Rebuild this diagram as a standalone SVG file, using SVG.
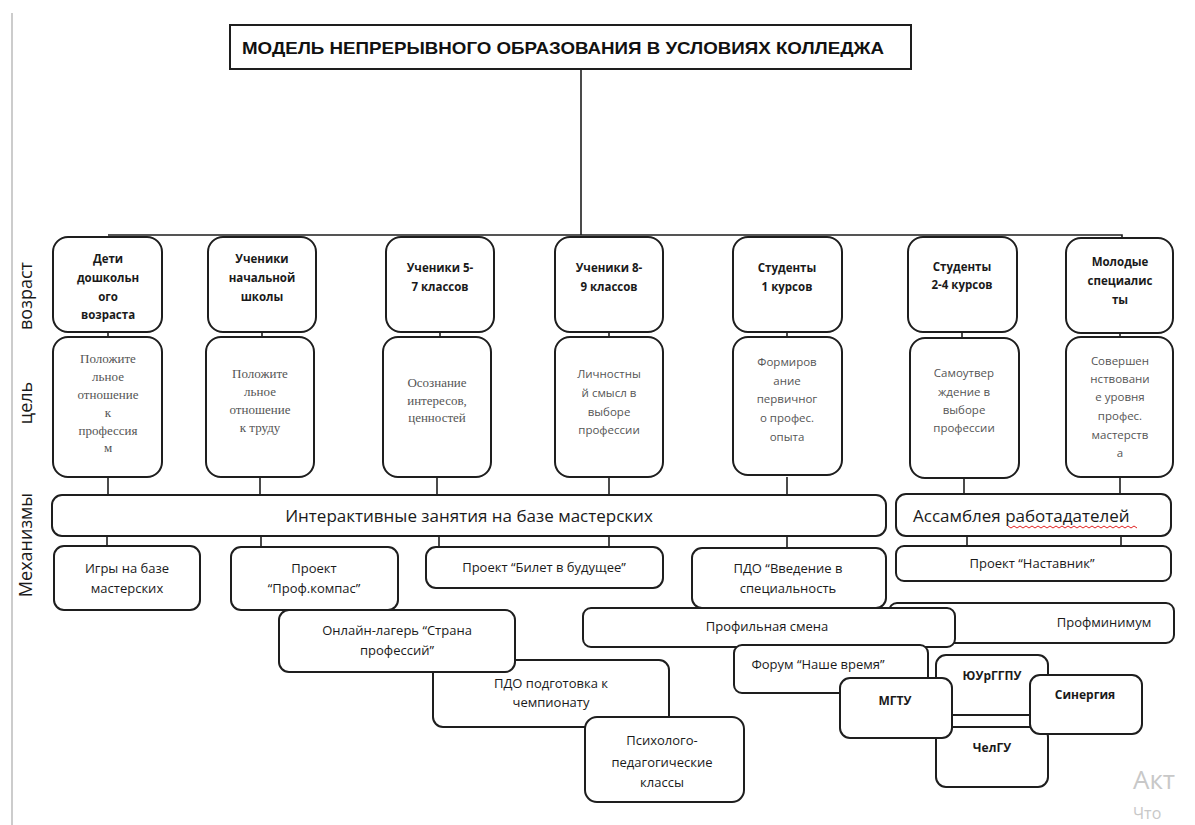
<svg xmlns="http://www.w3.org/2000/svg" width="1195" height="825" viewBox="0 0 1195 825">
<style>
.bx{fill:#fff;stroke:#1e1e1e;stroke-width:2}
.cn{fill:none;stroke:#1e1e1e;stroke-width:1.6}
.t1{font-family:"Open Sans","DejaVu Sans",sans-serif;font-size:11.5px;font-weight:bold;fill:#1a1a1a;text-anchor:middle}
.t2s{font-family:"Liberation Serif","DejaVu Serif",serif;font-size:13px;fill:#555;text-anchor:middle}
.t2{font-family:"Open Sans","DejaVu Sans",sans-serif;font-size:11.5px;fill:#555;text-anchor:middle}
.tm{font-family:"Open Sans","DejaVu Sans",sans-serif;font-size:13px;fill:#1a1a1a;text-anchor:middle}
.tb{font-family:"Open Sans","DejaVu Sans",sans-serif;font-size:12px;font-weight:bold;fill:#1a1a1a;text-anchor:middle}
.tl{font-family:"Open Sans","DejaVu Sans",sans-serif;font-size:17px;fill:#1a1a1a}
.side{font-family:"Open Sans","DejaVu Sans",sans-serif;font-size:18px;fill:#1a1a1a;text-anchor:middle}
.wm{font-family:"Open Sans","DejaVu Sans",sans-serif;fill:#c8c8c8}
</style>
<rect width="1195" height="825" fill="#fff"/>
<line x1="12" y1="13" x2="12" y2="825" stroke="#bbb" stroke-width="1.5"/>

<g id="side-labels">
<text class="side" transform="translate(32,296) rotate(-90)">возраст</text>
<text class="side" transform="translate(32,403) rotate(-90)">цель</text>
<text class="side" transform="translate(32,545) rotate(-90)">Механизмы</text>
</g>

<g id="connectors">
<path class="cn" d="M581 69 V235 M108 235 H1122 V238"/>
<path class="cn" d="M108 332 V337 M262 332 V337 M440 332 V337 M609 332 V337 M787 332 V337 M962 332 V337 M1120 333 V337"/>
<path class="cn" d="M108 477 V495 M260 477 V495 M437 477 V495 M609 472 V495 M787 477 V495 M964 472 V494 M1120 472 V494"/>
<path class="cn" d="M107 536 V546 M261 536 V547 M439 536 V547 M609 536 V547 M787 536 V548 M967 536 V546 M1121 536 V546"/>
</g>

<g id="title">
<rect x="230" y="25" width="681" height="44" fill="#fff" stroke="#1e1e1e" stroke-width="2"/>
<text x="242" y="54" font-family="'Liberation Sans',Arial,sans-serif" font-size="17" font-weight="bold" fill="#111" textLength="642" lengthAdjust="spacingAndGlyphs">МОДЕЛЬ НЕПРЕРЫВНОГО ОБРАЗОВАНИЯ В УСЛОВИЯХ КОЛЛЕДЖА</text>
</g>

<g id="age-1"><rect class="bx" x="53" y="237" width="109" height="95" rx="15"/>
<text class="t1" x="108" y="263">Дети</text><text class="t1" x="108" y="282">дошкольн</text><text class="t1" x="108" y="301">ого</text><text class="t1" x="108" y="319">возраста</text></g>
<g id="age-2"><rect class="bx" x="208" y="237" width="108" height="95" rx="15"/>
<text class="t1" x="262" y="263">Ученики</text><text class="t1" x="262" y="282">начальной</text><text class="t1" x="262" y="301">школы</text></g>
<g id="age-3"><rect class="bx" x="386" y="237" width="108" height="95" rx="15"/>
<text class="t1" x="440" y="272">Ученики 5-</text><text class="t1" x="440" y="291">7 классов</text></g>
<g id="age-4"><rect class="bx" x="555" y="237" width="108" height="95" rx="15"/>
<text class="t1" x="609" y="272">Ученики 8-</text><text class="t1" x="609" y="291">9 классов</text></g>
<g id="age-5"><rect class="bx" x="733" y="237" width="109" height="95" rx="15"/>
<text class="t1" x="787" y="272">Студенты</text><text class="t1" x="787" y="291">1 курсов</text></g>
<g id="age-6"><rect class="bx" x="908" y="237" width="109" height="95" rx="15"/>
<text class="t1" x="962" y="271">Студенты</text><text class="t1" x="962" y="289">2-4 курсов</text></g>
<g id="age-7"><rect class="bx" x="1066" y="238" width="107" height="95" rx="15"/>
<text class="t1" x="1120" y="266">Молодые</text><text class="t1" x="1120" y="285">специалис</text><text class="t1" x="1120" y="304">ты</text></g>

<g id="goal-1"><rect class="bx" x="53" y="337" width="109" height="140" rx="15"/>
<text class="t2s" x="108" y="363">Положите</text><text class="t2s" x="108" y="381">льное</text><text class="t2s" x="108" y="399">отношение</text><text class="t2s" x="108" y="417">к</text><text class="t2s" x="108" y="435">профессия</text><text class="t2s" x="108" y="452">м</text></g>
<g id="goal-2"><rect class="bx" x="206" y="337" width="108" height="140" rx="15"/>
<text class="t2s" x="260" y="378">Положите</text><text class="t2s" x="260" y="396">льное</text><text class="t2s" x="260" y="414">отношение</text><text class="t2s" x="260" y="432">к труду</text></g>
<g id="goal-3"><rect class="bx" x="383" y="337" width="108" height="140" rx="15"/>
<text class="t2s" x="437" y="387">Осознание</text><text class="t2s" x="437" y="405">интересов,</text><text class="t2s" x="437" y="422">ценностей</text></g>
<g id="goal-4"><rect class="bx" x="555" y="337" width="108" height="140" rx="15"/>
<text class="t2" x="609" y="378">Личностны</text><text class="t2" x="609" y="397">й смысл в</text><text class="t2" x="609" y="416">выборе</text><text class="t2" x="609" y="434">профессии</text></g>
<g id="goal-5"><rect class="bx" x="733" y="337" width="109" height="138" rx="15"/>
<text class="t2" x="787" y="366">Формиров</text><text class="t2" x="787" y="385">ание</text><text class="t2" x="787" y="403">первичног</text><text class="t2" x="787" y="422">о профес.</text><text class="t2" x="787" y="441">опыта</text></g>
<g id="goal-6"><rect class="bx" x="910" y="338" width="109" height="140" rx="15"/>
<text class="t2" x="964" y="377">Самоутвер</text><text class="t2" x="964" y="396">ждение в</text><text class="t2" x="964" y="414">выборе</text><text class="t2" x="964" y="432">профессии</text></g>
<g id="goal-7"><rect class="bx" x="1066" y="337" width="107" height="140" rx="15"/>
<text class="t2" x="1120" y="365">Совершен</text><text class="t2" x="1120" y="383">нствовани</text><text class="t2" x="1120" y="401">е уровня</text><text class="t2" x="1120" y="420">профес.</text><text class="t2" x="1120" y="439">мастерств</text><text class="t2" x="1120" y="457">а</text></g>

<g id="interactive"><rect class="bx" x="52" y="495" width="834" height="41" rx="10"/>
<text class="tl" x="469" y="522" text-anchor="middle">Интерактивные занятия на базе мастерских</text></g>
<g id="assembly"><rect class="bx" x="896" y="494" width="275" height="42" rx="10"/>
<text class="tl" x="913" y="522">Ассамблея работадателей</text>
<path d="M1008 526 l3 2 l3 -2 l3 2 l3 -2 l3 2 l3 -2 l3 2 l3 -2 l3 2 l3 -2 l3 2 l3 -2 l3 2 l3 -2 l3 2 l3 -2 l3 2 l3 -2 l3 2 l3 -2 l3 2 l3 -2 l3 2 l3 -2 l3 2 l3 -2 l3 2 l3 -2 l3 2 l3 -2 l3 2 l3 -2 l3 2 l3 -2 l3 2 l3 -2 l3 2 l3 -2 l3 2 l3 -2 l3 2 l3 -2 l3 2" fill="none" stroke="#e02020" stroke-width="1"/></g>

<g id="games"><rect class="bx" x="54" y="546" width="146" height="64" rx="10"/>
<text class="tm" x="127" y="573">Игры на базе</text><text class="tm" x="127" y="593">мастерских</text></g>
<g id="compass"><rect class="bx" x="231" y="547" width="167" height="63" rx="10"/>
<text class="tm" x="314" y="573">Проект</text><text class="tm" x="314" y="593">“Проф.компас”</text></g>
<g id="ticket"><rect class="bx" x="426" y="547" width="237" height="41" rx="10"/>
<text class="tm" x="544" y="572">Проект “Билет в будущее”</text></g>
<g id="intro"><rect class="bx" x="692" y="548" width="194" height="60" rx="10"/>
<text class="tm" x="788" y="573">ПДО “Введение в</text><text class="tm" x="788" y="593">специальность</text></g>
<g id="mentor"><rect class="bx" x="896" y="546" width="275" height="35" rx="8"/>
<text class="tm" x="1032" y="568">Проект “Наставник”</text></g>
<g id="profmin"><rect class="bx" x="889" y="603" width="285" height="40" rx="8"/>
<text class="tm" x="1104" y="627">Профминимум</text></g>
<g id="profshift"><rect class="bx" x="583" y="608" width="372" height="39" rx="8"/>
<text class="tm" x="767" y="631">Профильная смена</text></g>
<g id="champ"><rect class="bx" x="433" y="660" width="236" height="67" rx="10"/>
<text class="tm" x="551" y="688">ПДО подготовка к</text><text class="tm" x="551" y="707">чемпионату</text></g>
<g id="camp"><rect class="bx" x="279" y="610" width="236" height="62" rx="10"/>
<text class="tm" x="397" y="635">Онлайн-лагерь “Страна</text><text class="tm" x="397" y="655">профессий”</text></g>
<g id="psych"><rect class="bx" x="585" y="717" width="159" height="85" rx="12"/>
<text class="tm" x="662" y="745">Психолого-</text><text class="tm" x="662" y="767">педагогические</text><text class="tm" x="662" y="787">классы</text></g>
<g id="forum"><rect class="bx" x="734" y="645" width="194" height="48" rx="8"/>
<text class="tm" x="818" y="669">Форум “Наше время”</text></g>
<g id="uurgu"><rect class="bx" x="936" y="655" width="112" height="60" rx="10"/>
<text class="tb" x="992" y="680">ЮУрГГПУ</text></g>
<g id="chelgu"><rect class="bx" x="936" y="727" width="112" height="60" rx="10"/>
<text class="tb" x="992" y="752">ЧелГУ</text></g>
<g id="mgtu"><rect class="bx" x="840" y="678" width="112" height="60" rx="10"/>
<text class="tb" x="895" y="705">МГТУ</text></g>
<g id="synergy"><rect class="bx" x="1030" y="675" width="112" height="59" rx="10"/>
<text class="tb" x="1085" y="699">Синергия</text></g>

<text class="wm" x="1133" y="789" font-size="26">Акт</text>
<text class="wm" x="1133" y="819" font-size="16">Что</text>
</svg>
